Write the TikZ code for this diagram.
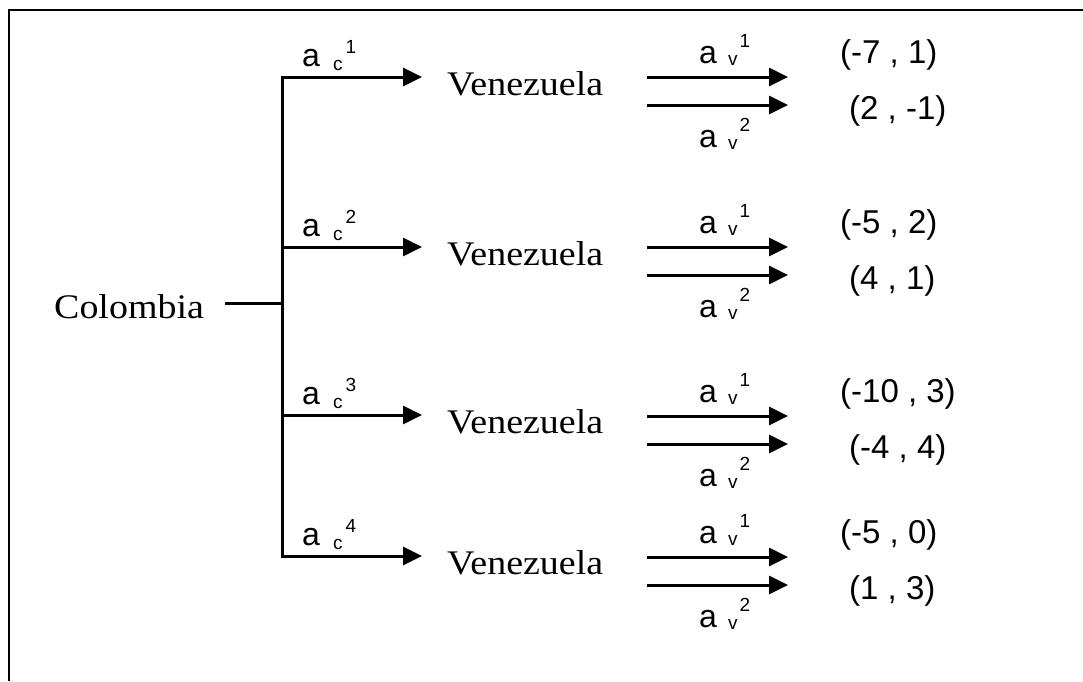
\documentclass[tikz,border=0pt]{standalone}
\usepackage{fontspec}
\setmainfont{Liberation Serif}
\setsansfont{Liberation Sans}
\usetikzlibrary{arrows.meta}
\newcommand\aclbl[1]{\fontsize{32}{32}\selectfont a\hspace{13pt}\raisebox{-4pt}{\fontsize{19}{19}\selectfont c}\hspace{3pt}\raisebox{13pt}{\fontsize{19}{19}\selectfont #1}}
\newcommand\avlbl[1]{\fontsize{32}{32}\selectfont a\hspace{11pt}\raisebox{-2pt}{\fontsize{19}{19}\selectfont v}\hspace{2pt}\raisebox{16pt}{\fontsize{19}{19}\selectfont #1}}
\begin{document}
\begin{tikzpicture}[x=1pt,y=-1pt,
  conn/.style={line width=3pt},
  arr/.style={conn,-{Triangle[length=19pt,width=18pt]}},
  serifnode/.style={inner sep=0pt,anchor=base west,font=\fontsize{34.5}{34.5}\selectfont},
  pay/.style={inner sep=0pt,anchor=base west,font=\sffamily\fontsize{33}{33}\selectfont},
  lbl/.style={inner sep=0pt,anchor=base west,font=\sffamily}]
\useasboundingbox (0,0) rectangle (1083,681);
\draw[line width=1.8pt] (9.3,681) -- (9.3,10.3) -- (1083,10.3);

\node[serifnode] (col) at (54,318) {\scalebox{1.1}[1]{Colombia}};
\coordinate (cs) at (225,303);
\coordinate (cj) at (282,303);
\draw[conn] (cs) -- (cj);

\coordinate (j1) at (282,77);
\coordinate (j4) at (282,556);
\draw[conn,line cap=rect] (j1) -- (j4);

\foreach \i/\y/\ua/\la/\up/\lp in {1/77/77/105/{(-7 , 1)}/{(2 , -1)},
                                    2/247/247/275/{(-5 , 2)}/{(4 , 1)},
                                    3/415/416/444/{(-10 , 3)}/{(-4 , 4)},
                                    4/556/557/585/{(-5 , 0)}/{(1 , 3)}}{
  \coordinate (b\i) at (282,\y);
  \coordinate (t\i) at (422,\y);
  \draw[arr] (b\i) -- (t\i);
  \node[lbl] (ac\i) at (302,\y-11) {\aclbl{\i}};
  \node[serifnode] (ven\i) at (447,\y+18) {\scalebox{1.1}[1]{Venezuela}};
  \coordinate (us\i) at (647,\ua);
  \coordinate (ue\i) at (788,\ua);
  \coordinate (ls\i) at (647,\la);
  \coordinate (le\i) at (788,\la);
  \draw[arr] (us\i) -- (ue\i);
  \draw[arr] (ls\i) -- (le\i);
  \node[lbl] (avu\i) at (699,\ua-14) {\avlbl{1}};
  \node[lbl] (avl\i) at (699,\la+42) {\avlbl{2}};
  \node[pay] (pu\i) at (840,\ua-14) {\up};
  \node[pay] (pl\i) at (849,\la+14) {\lp};
}
\end{tikzpicture}
\end{document}
